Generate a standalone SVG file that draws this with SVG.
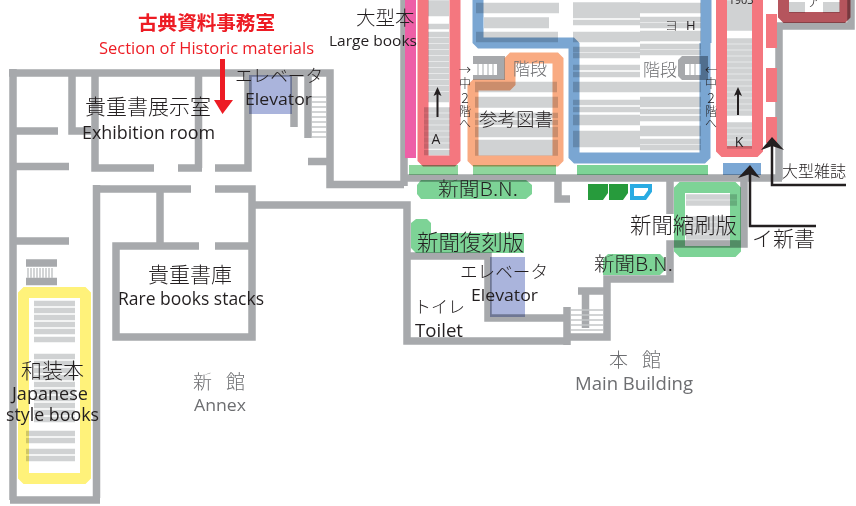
<svg xmlns="http://www.w3.org/2000/svg" width="856" height="506" viewBox="0 0 856 506">
<defs>
<style>
text{font-family:"Open Sans","Noto Sans CJK JP",sans-serif;fill:#231f20}
.j{font-family:"Noto Sans CJK JP",sans-serif;font-weight:300}
.g{fill:#6d6e71}
.r{fill:#ed1c24}
.wall{fill:none;stroke:#a7a9ac;stroke-width:7.500}
.shelf{fill:none;stroke:#d0d2d3;stroke-width:5.600}
.frame{fill:none;stroke-width:11;stroke-linejoin:bevel;mix-blend-mode:multiply}
.fill{mix-blend-mode:multiply}
.tread{fill:none;stroke:#c4c6c8;stroke-width:1.500}
.black{fill:none;stroke:#231f20;stroke-width:2.500}
.ah{fill:#231f20}
</style>
</defs>
<rect width="856" height="506" fill="#fff"/>

<g id="shelves">
<path class="shelf" d="M428 3H449M428 8.500H449M428 13.500H449M428 26.500H449M428 34.500H449M428 40.500H449M428 46.500H449M428 52.500H449M428 58.500H449M428 64.500H449M428 70.500H449M428 76.500H449M428 82.500H449M428 88.500H449M428 94.500H449M428 99.500H449M424 110H450M424 116H450M424 122H450M424 128H450M424 134H450M424 140H450M424 146H450M424 152.500H450"/>
<path class="shelf" d="M476 5.500H559M476 10.500H559M484 20H549M484 25.500H549M476 34.500H558M476 39.500H558"/>
<path class="shelf" d="M475 84.500H557M475 89.500H557M475 99.500H558M475 105H558M475 115.500H558M475 122.500H558M475 129.500H558M475 134.500H558M475 142.500H558M475 148H558M475 153H558"/>
<path class="shelf" d="M573 5H640M573 10H640M573 15.500H640M573 22.500H640M573 34.500H640M573 39.500H640M573 49.500H640M573 55.500H640M573 67.500H640M573 74.500H640M573 84.500H640M573 89.500H640M573 102.500H640M573 109.500H640M573 117.500H640M573 122.500H640M573 133.500H640M573 139H640M573 144.500H640"/>
<path class="shelf" d="M640 5.500H701M640 10.500H701M640 19.500H701M640 25.500H701M640 33.500H701M640 38.500H701M640 46.500H701M640 52.500H701M640 84.500H701M640 89.500H701M640 99.500H701M640 104.500H701M640 111.500H701M640 118.500H701M640 128.500H701M640 133.500H701M640 141.500H701M640 147.500H701"/>
<path class="shelf" d="M727 3H752M727 8.500H752M727 14H752M727 19.500H752M727 25H752M727 28H752M727 41H752M727 47H752M727 53H752M727 59H752M727 65H752M727 71H752M727 77H752M727 83H752M727 89H752M727 95H752M727 101H752M727 107H752M727 113H752M727 125H752M727 131H752M727 137H752M727 143H752M727 146H752"/>
<path class="shelf" d="M34 303.500H75M34 310.500H75M34 317.500H75M34 324.500H75M34 331.500H75M34 339.500H75M34 356.500H75M34 363.500H75M34 370.500H75M34 377.500H75M34 384.500H75M34 391.500H75M34 398.500H75M34 405.500H75M34 412.500H75M34 419.500H75M26 433.500H75M26 440.500H75M26 451.500H75M26 458.500H75"/>
<path class="shelf" d="M686 197H737M686 203H737M686 219H730M686 225H730M686 231H730M686 237H730M686 243H737"/>
</g>

<g id="walls">
<path class="wall" d="M13 69V500M10 500H100M96.500 498V185M93 189H191M215 189H252V337H116V246H199M215 246H252M160 189V246"/>
<path class="wall" d="M9 73H330V184.500H404M404 0V186M72 73V131H95M95 73V168H154M178 168H202M198.500 73V168M215 168H248V73M13 131H58M13 166.500H69M13 241H69"/>
<path class="wall" d="M294 73V127M308 73V138M308 161.500H330"/>
<path class="wall" d="M252 205H407V341H568M407 256H488V318H567M567 307V345M567 337H607V279H670V244H744V178M578 291H607M585.500 291V328"/>
<path class="wall" d="M404 178H782M670 178V214M558 178V199H570M779 180V26H851V0"/>
<path class="wall" d="M26 263H57M26 281.500H57"/>
<path class="tread" d="M571 310H603M571 315H603M571 320H603M571 325H603M571 330H603"/>
<path class="tread" d="M312 97H326M312 102H326M312 107H326M312 112H326M312 117H326M312 122H326M312 127H326M312 132H326M312 137H326"/>
<path class="tread" d="M28 268V278M31 268V278M34 268V278M37 268V278M40 268V278M43 268V278M46 268V278M49 268V278M52 268V278"/>
</g>

<g id="stairs">
<rect x="473" y="56" width="32" height="24" fill="#a7a9ac"/>
<rect x="473" y="64" width="24" height="11" fill="#fff"/>
<path class="tread" d="M478 64V75M483 64V75M488 64V75M493 64V75"/>
<rect x="640" y="57" width="38" height="24" fill="#fff"/>
<path d="M682 56H708V80H682L678 76V60Z" fill="#a7a9ac"/>
<rect x="685" y="64" width="16" height="11" fill="#fff"/>
<path class="tread" d="M690 64V75M695 64V75"/>
</g>

<g id="rooms">
<rect id="pink" x="405" y="0" width="11" height="158" fill="#ee5fa7"/>
<rect class="fill" x="409" y="165" width="49" height="10" fill="#8fd69d"/>
<rect class="fill" x="473" y="165" width="83" height="10" fill="#8fd69d"/>
<rect class="fill" x="577" y="165" width="131" height="10" fill="#7dd396"/>
<rect class="fill" x="723" y="163" width="38" height="12" fill="#7ba7d4"/>
<rect class="fill" x="249" y="75" width="43" height="39" fill="#aab4dc"/>
<rect class="fill" x="490" y="257" width="35" height="60" fill="#aab4dc"/>
<path class="fill" d="M421 180H526L532 185V194L526 199H421L417 194V185Z" fill="#7dd396"/>
<path class="fill" d="M416 219H427L431 223V233H524V253H416L411 248V223Z" fill="#7dd396"/>
<path class="fill" d="M608 254H660L665 259V270L660 275H603V259Z" fill="#7dd396"/>
<path d="M588 184H608V193L603 200H588Z" fill="#279b3c"/>
<path d="M609 184H628V193L623 200H609Z" fill="#279b3c"/>
<path d="M632 186H650V191L645 198H632Z" fill="none" stroke="#29abe2" stroke-width="4"/>
</g>

<g id="frames">
<path class="frame" stroke="#f4777f" d="M423 0V161H455V0"/>
<path class="frame" stroke="#f4777f" d="M721.500 0V151.500H757.500V0"/>
<path class="frame" stroke="#7aa6d2" d="M478 0V43H574V158H705V43"/>
<path class="frame" stroke="#7aa6d2" d="M706 0V43"/>
<path class="frame" stroke="#f9ab82" d="M473 161V85H510V58H558V161Z"/>
<path class="frame" stroke="#7dd396" d="M679.500 187.500H735.500V251.500H679.500Z"/>
<path class="frame" stroke="#fff27a" d="M23.500 292.500H85.500V478.500H23.500Z"/>
<rect x="789" y="2" width="16" height="11" fill="#d0d2d3"/>
<rect x="823" y="2" width="17" height="11" fill="#d0d2d3"/>
<path class="frame" stroke="#b5555d" d="M783.500 0V17.500H845V0"/>
<path d="M766 14H777V48H766ZM766 68H777V102H766ZM766 117H777V143H766Z" fill="#f4777f"/>
</g>

<g id="connectors">
<path class="black" d="M772 145V185H846"/>
<path d="M772 137L784 150L772 146L761 150Z" class="ah"/>
<path class="black" d="M750 172V226H816"/>
<path d="M750 165L760 178L750 174L738 178Z" class="ah"/>
<path d="M437.500 92V117" stroke="#231f20" stroke-width="2" fill="none"/>
<path d="M437.500 87L441.500 96L437.500 94L433.500 96Z" class="ah"/>
<path d="M738 92V115" stroke="#231f20" stroke-width="2" fill="none"/>
<path d="M738 87L742 96L738 94L734 96Z" class="ah"/>
<path d="M220 59H225V100H233L222.500 114L214 100H220Z" fill="#ed1c24"/>
</g>

<g id="labels">
<text class="j r" x="138" y="30" font-size="19.500" style="font-weight:700" textLength="137" lengthAdjust="spacingAndGlyphs">古典資料事務室</text>
<text class="r" x="99" y="54" font-size="17" textLength="215" lengthAdjust="spacingAndGlyphs">Section of Historic materials</text>
<text class="j" x="356" y="25" font-size="19.500">大型本</text>
<text x="329" y="46" font-size="15" textLength="88" lengthAdjust="spacingAndGlyphs">Large books</text>
<text class="j" x="235" y="82" font-size="17.600">エレベータ</text>
<text x="245" y="105" font-size="17" textLength="67" lengthAdjust="spacingAndGlyphs">Elevator</text>
<text class="j" x="85" y="114" font-size="21">貴重書展示室</text>
<text x="82" y="139" font-size="18" textLength="133" lengthAdjust="spacingAndGlyphs">Exhibition room</text>
<text class="j" x="148" y="282" font-size="21">貴重書庫</text>
<text x="118" y="305" font-size="18" textLength="146" lengthAdjust="spacingAndGlyphs">Rare books stacks</text>
<text class="j" x="21" y="378" font-size="21">和装本</text>
<text x="12" y="400" font-size="18" textLength="76" lengthAdjust="spacingAndGlyphs">Japanese</text>
<text x="6" y="421" font-size="18" textLength="93" lengthAdjust="spacingAndGlyphs">style books</text>
<text class="j g" x="193" y="389" font-size="19">新</text>
<text class="j g" x="226" y="389" font-size="19">館</text>
<text class="g" x="194" y="411" font-size="17" textLength="52" lengthAdjust="spacingAndGlyphs">Annex</text>
<text class="j g" x="609" y="367" font-size="19">本</text>
<text class="j g" x="642" y="367" font-size="19">館</text>
<text class="g" x="575" y="390" font-size="18" textLength="118" lengthAdjust="spacingAndGlyphs">Main Building</text>
<text class="j" x="414" y="313" font-size="17">トイレ</text>
<text x="415" y="337" font-size="18" textLength="48" lengthAdjust="spacingAndGlyphs">Toilet</text>
<text class="j" x="460" y="278" font-size="17.600">エレベータ</text>
<text x="471" y="301" font-size="17" textLength="67" lengthAdjust="spacingAndGlyphs">Elevator</text>
<text class="j" x="438" y="196" font-size="19" textLength="80" lengthAdjust="spacingAndGlyphs">新聞B.N.</text>
<text class="j" x="417" y="250" font-size="21.400">新聞復刻版</text>
<text class="j" x="594" y="271" font-size="19" textLength="79" lengthAdjust="spacingAndGlyphs">新聞B.N.</text>
<text class="j" x="630" y="233" font-size="21.400">新聞縮刷版</text>
<text class="j" x="752" y="246" font-size="21">イ新書</text>
<text class="j" x="782" y="177" font-size="16">大型雑誌</text>
<text class="j g" x="513" y="75" font-size="17">階段</text>
<text class="j" x="479" y="126" font-size="18.500">参考図書</text>
<text class="j g" x="643" y="76" font-size="17">階段</text>
<text class="j" x="465" y="75" font-size="12" text-anchor="middle">→</text>
<text class="j" x="465" y="88" font-size="12" text-anchor="middle">中</text>
<text class="j" x="465" y="103" font-size="14" text-anchor="middle">2</text>
<text class="j" x="465" y="116" font-size="12" text-anchor="middle">階</text>
<text class="j" x="465" y="128" font-size="12" text-anchor="middle">へ</text>
<text class="j" x="711" y="75" font-size="12" text-anchor="middle">←</text>
<text class="j" x="711" y="88" font-size="12" text-anchor="middle">中</text>
<text class="j" x="711" y="103" font-size="14" text-anchor="middle">2</text>
<text class="j" x="711" y="116" font-size="12" text-anchor="middle">階</text>
<text class="j" x="711" y="128" font-size="12" text-anchor="middle">へ</text>
<text x="436" y="144" font-size="14" text-anchor="middle">A</text>
<text x="739" y="147" font-size="14" text-anchor="middle">K</text>
<text class="j" x="665" y="30" font-size="13">ヨ</text>
<text x="686" y="30" font-size="13">H</text>
<text x="741" y="4" font-size="11" text-anchor="middle">1903</text>
<text class="j" x="814" y="6" font-size="14" text-anchor="middle">ア</text>
</g>
</svg>
